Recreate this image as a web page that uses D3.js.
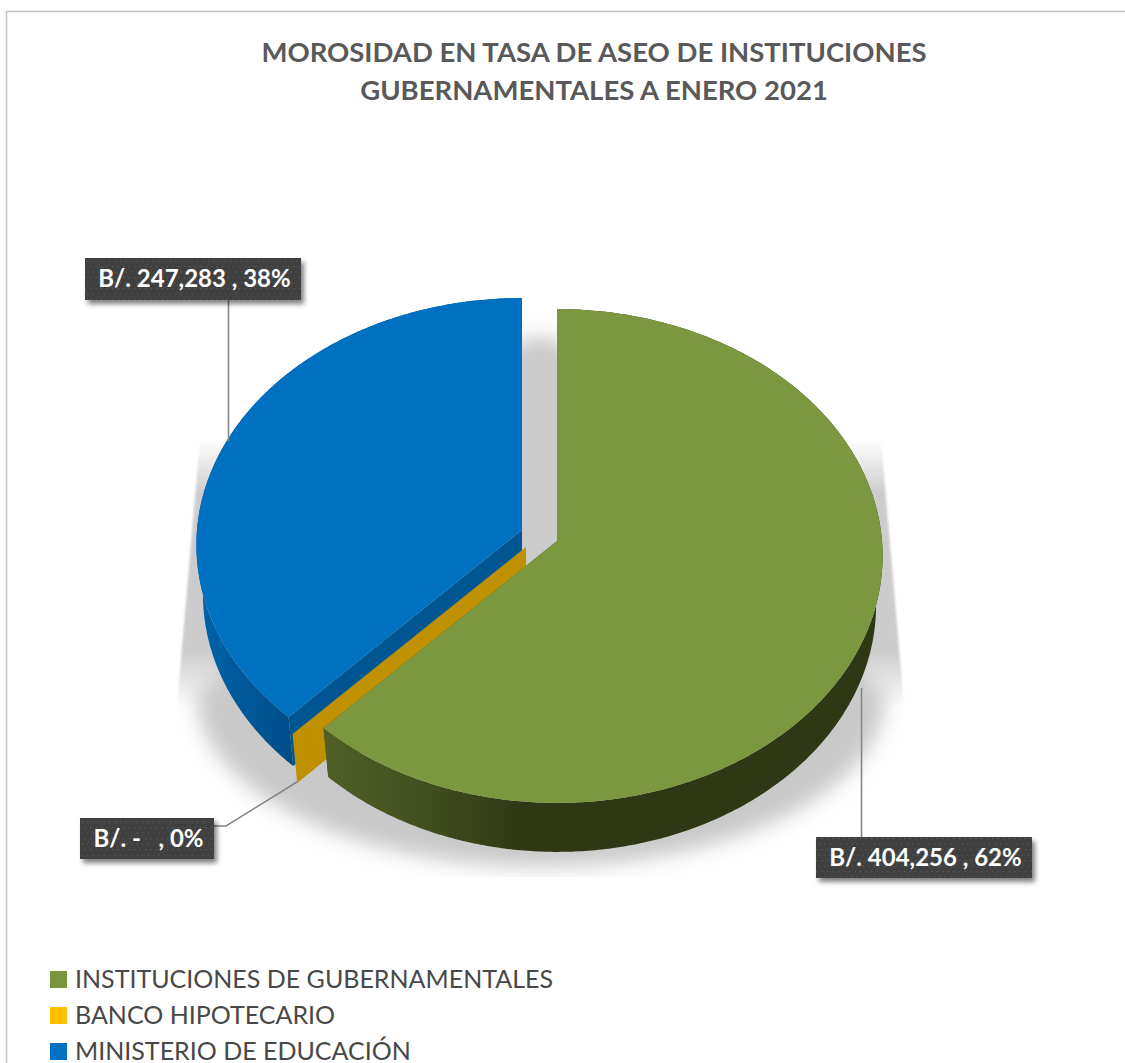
<!DOCTYPE html>
<html><head><meta charset="utf-8">
<script src="https://cdnjs.cloudflare.com/ajax/libs/d3/7.8.5/d3.min.js"></script>
<style>html,body{margin:0;padding:0;background:#fff}svg{display:block}text{font-family:Lato,sans-serif;white-space:pre}</style>
</head><body><div id="c"></div>
<script>
const categories = ["INSTITUCIONES DE GUBERNAMENTALES","BANCO HIPOTECARIO","MINISTERIO DE EDUCACIÓN"];
const values = [404256, 0, 247283];
const dataLabels = ["B/. 404,256 , 62%","B/. -   , 0%","B/. 247,283 , 38%"];
const titleLines = ["MOROSIDAD EN TASA DE ASEO DE INSTITUCIONES","GUBERNAMENTALES A ENERO 2021"];
const topColors = ["#7b973f","#ffc000","#0070c0"];
const innerWallColors = ["#4f5f25","#bf9000","#005693"];

const W=1125,H=1063;
const svg=d3.select("#c").append("svg").attr("width",W).attr("height",H);
const defs=svg.append("defs");
const blur=defs.append("filter").attr("id","soft").attr("x","-20%").attr("y","-20%").attr("width","140%").attr("height","140%");
blur.append("feGaussianBlur").attr("stdDeviation",10);
const blur2=defs.append("filter").attr("id","soft2").attr("x","-5%").attr("y","-5%").attr("width","110%").attr("height","110%");
blur2.append("feGaussianBlur").attr("stdDeviation",1);
const ds=defs.append("filter").attr("id","lab").attr("x","-10%").attr("y","-20%").attr("width","125%").attr("height","150%");
ds.append("feDropShadow").attr("dx",3).attr("dy",4).attr("stdDeviation",2.5).attr("flood-color","#000").attr("flood-opacity",0.5);
const pat=defs.append("pattern").attr("id","dots").attr("width",11).attr("height",11).attr("patternUnits","userSpaceOnUse");
pat.append("rect").attr("width",11).attr("height",11).attr("fill","#404040");
[[2,2],[7.5,2],[4.7,7.5],[10.2,7.5]].forEach(p=>pat.append("rect").attr("x",p[0]).attr("y",p[1]).attr("width",1.2).attr("height",1.2).attr("fill","#5c5c5c"));
const gG=defs.append("linearGradient").attr("id","wall0").attr("gradientUnits","userSpaceOnUse").attr("x1",325).attr("x2",520).attr("y1",0).attr("y2",0);
gG.append("stop").attr("offset",0).attr("stop-color","#505f26");
gG.append("stop").attr("offset",0.5).attr("stop-color","#42501f");
gG.append("stop").attr("offset",1).attr("stop-color","#2f3815");
const gB=defs.append("linearGradient").attr("id","wall2").attr("gradientUnits","userSpaceOnUse").attr("x1",197).attr("x2",293).attr("y1",0).attr("y2",0);
gB.append("stop").attr("offset",0).attr("stop-color","#0064ab");
gB.append("stop").attr("offset",1).attr("stop-color","#004c88");
const fade=defs.append("linearGradient").attr("id","sideFade").attr("x1",0).attr("x2",0).attr("y1",0).attr("y2",1);
fade.append("stop").attr("offset",0).attr("stop-color","#ccc").attr("stop-opacity",0);
fade.append("stop").attr("offset",0.2).attr("stop-color","#ccc").attr("stop-opacity",1);
fade.append("stop").attr("offset",0.8).attr("stop-color","#ccc").attr("stop-opacity",1);
fade.append("stop").attr("offset",1).attr("stop-color","#ccc").attr("stop-opacity",0.05);
defs.append("clipPath").attr("id","shClip").append("rect").attr("x",0).attr("y",0).attr("width",W).attr("height",877);

// frame
svg.append("rect").attr("x",6.5).attr("y",11.5).attr("width",W).attr("height",H).attr("fill","#fff").attr("stroke","#c4c4c4").attr("stroke-width",1.5);

// title
svg.append("g").selectAll("text").data(titleLines).join("text")
  .attr("x",594).attr("y",(d,i)=>62+i*38).attr("text-anchor","middle")
  .attr("font-size",27.5).attr("font-weight",700).attr("fill","#595959").text(d=>d);

// pie geometry: perspective mapping of a tilted disc
const Rx=325,Ry=246,K=0.0607,depth=49,shrink=0.98;
const apex=[[557,541],[526,547],[522,530]];
const arcs=d3.pie().sort(null).value(d=>d)(values);
const pt=(i,t,r,low)=>{
  const u=Math.sin(t)*r,v=Math.cos(t)*r,q=1+K*v,s=low?shrink:1;
  return [apex[i][0]+s*Rx*u/q, apex[i][1]-Ry*v/q+(low?depth:0)];
};
const line=d3.line();
const samples=(a,b)=>{const n=Math.max(1,Math.ceil(Math.abs(b-a)/0.01));return d3.range(n+1).map(k=>a+(b-a)*k/n);};

// soft cast shadow
const sCx=541,sRx=Rx*1.06,sCy=695,sRy=172;
const lower=samples(Math.PI/2,Math.PI*1.5).map(t=>[sCx+sRx*Math.sin(t),sCy-sRy*Math.cos(t)]);
const shadowPts=[[sCx+250,sCy-100],...lower,[sCx-250,sCy-100],[apex[2][0],apex[0][1]-203],[apex[0][0],apex[0][1]-203]];
svg.append("g").attr("clip-path","url(#shClip)").append("path").attr("d",line(shadowPts)+"Z").attr("fill","#c9c9c9").attr("filter","url(#soft)");
// tapered sides of the shadow, fading out at both ends
const sideTop=440, sideLow=705;
svg.append("path").attr("d",line([[sCx-341,sideTop],[sCx+340,sideTop],[sCx+363,sideLow],[sCx-364,sideLow]])+"Z").attr("fill","url(#sideFade)").attr("filter","url(#soft2)");
// firmer centre of gap
svg.append("path").attr("d",line([[apex[2][0],apex[0][1]-185],[apex[0][0],apex[0][1]-185],[apex[0][0],apex[0][1]+30],[apex[2][0],apex[0][1]+30]])+"Z").attr("fill","#cccccc");

const pieG=svg.append("g");
function drawSlice(i){
  const a=arcs[i];
  if(a.endAngle>a.startAngle){
    const ts=samples(a.startAngle,a.endAngle);
    const tip=a===arcs[2]?a.startAngle:a.endAngle;
    pieG.append("path").attr("d",line([[apex[i][0],apex[i][1]],pt(i,tip,1,false),pt(i,tip,1,true),[apex[i][0],apex[i][1]+depth]])+"Z").attr("fill",innerWallColors[i]);
    const topRim=ts.map(t=>pt(i,t,1,false)),lowRim=ts.map(t=>pt(i,t,1,true)).reverse();
    pieG.append("path").attr("d",line(topRim.concat(lowRim))+"Z").attr("fill","url(#wall"+i+")");
    pieG.append("path").attr("d",line([apex[i],...topRim])+"Z").attr("fill",topColors[i]);
  } else {
    pieG.append("path").attr("d",line([apex[i],pt(i,a.startAngle,1,false),pt(i,a.startAngle,1,true),[apex[i][0],apex[i][1]+depth]])+"Z").attr("fill",innerWallColors[i]);
  }
}
[2,1,0].forEach(drawSlice);

// leader lines
const leaders=[[[861.5,688],[861.5,837]],[[214,826],[226,826],[297,782]],[[228.5,300],[228.5,441]]];
svg.append("g").selectAll("path").data(leaders).join("path").attr("d",d=>line(d)).attr("fill","none").attr("stroke","#858585").attr("stroke-width",1.6);

// data labels
const boxes=[[816,837,216,41],[80,818,134,41],[85,258,216,42]];
const lg=svg.append("g").selectAll("g").data(dataLabels).join("g");
lg.append("rect").attr("x",(d,i)=>boxes[i][0]).attr("y",(d,i)=>boxes[i][1]).attr("width",(d,i)=>boxes[i][2]).attr("height",(d,i)=>boxes[i][3]).attr("fill","url(#dots)").attr("filter","url(#lab)");
lg.append("text").attr("x",(d,i)=>boxes[i][0]+boxes[i][2]/2+1.5).attr("y",(d,i)=>boxes[i][1]+boxes[i][3]/2+8).attr("text-anchor","middle").attr("font-size",24).attr("font-weight",700).attr("fill","#fff").text(d=>d);

// legend
const leg=svg.append("g").selectAll("g").data(categories).join("g");
const legY=d3.scalePoint().domain(categories).range([979.5,1051.5]);
leg.append("rect").attr("x",50).attr("y",d=>legY(d)-8.5).attr("width",17).attr("height",17).attr("fill",(d,i)=>i===0?"#7a963c":topColors[i]);
leg.append("text").attr("x",75).attr("y",d=>legY(d)+8).attr("font-size",25).attr("fill","#484848").text(d=>d);
</script></body></html>
